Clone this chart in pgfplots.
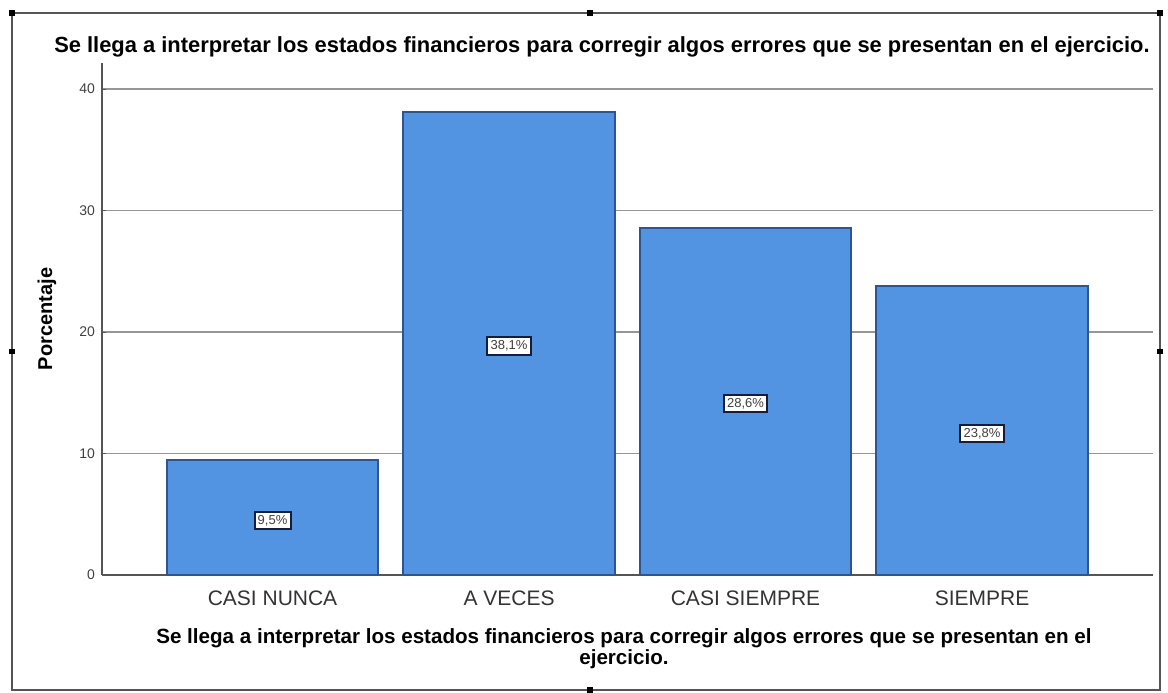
\documentclass[border=0pt]{standalone}
\usepackage{pgfplots}
\pgfplotsset{compat=1.18}
\usepackage{fontspec}
\setmainfont{Liberation Sans}
\definecolor{barfill}{RGB}{83,148,226}
\definecolor{barline}{RGB}{45,85,145}
\definecolor{gridc}{RGB}{150,150,150}
\definecolor{axc}{RGB}{85,85,85}
\definecolor{lblline}{RGB}{20,30,60}
\begin{document}
\begin{tikzpicture}
\useasboundingbox (-51pt,-58.5pt) rectangle (533pt,287.5pt);
\draw[color=axc, line width=1pt] (-45pt,-57.5pt) rectangle (529pt,281pt);
\foreach \p in {(-45pt,281pt),(244pt,281pt),(529pt,281pt),(-45pt,111.75pt),(529pt,111.75pt),(244pt,-57.5pt)}
  \fill[black] \p ++(-1.3pt,-1.3pt) rectangle ++(2.6pt,2.6pt);
\begin{axis}[
  at={(0,0)}, anchor=south west,
  scale only axis, width=525.5pt, height=256pt,
  xmin=-0.721, xmax=3.723, ymin=0, ymax=42.14,
  axis y line*=left, axis x line*=bottom,
  axis line style={color=axc, line width=0.8pt},
  ytick={0,10,20,30,40},
  ymajorgrids, grid style={color=gridc, line width=0.6pt},
  major tick length=2pt,
  tick style={color=axc},
  xtick={0,1,2,3},
  xtick style={draw=none},
  xticklabels={CASI NUNCA, A VECES, CASI SIEMPRE, SIEMPRE},
  xticklabel style={font=\fontsize{10.5}{12}\selectfont, color=black!80, yshift=-4.5pt},
  yticklabel style={font=\fontsize{7}{8}\selectfont, color=black!75},
  /pgf/number format/assume math mode=true,
  ylabel={\textbf{Porcentaje}},
  ylabel style={font=\fontsize{10.5}{12}\selectfont},
  every axis y label/.style={at={(-27.5pt,128pt)}, rotate=90, anchor=center},
  clip=false,
]
\addplot[ybar, bar width=0.894, fill=barfill, draw=barline, line width=1pt]
  coordinates {(0,9.5) (1,38.1) (2,28.6) (3,23.8)};
\addplot[draw=none, mark=none, nodes near coords, point meta=explicit symbolic,
  every node near coord/.style={anchor=center, fill=white, draw=lblline, line width=1pt,
    inner sep=1.6pt, font=\fontsize{6.5}{7.5}\selectfont, text=black!75}]
  table[meta=lab] {
x y lab
0 4.5 {9,5\%}
1 18.85 {38,1\%}
2 14.1 {28,6\%}
3 11.65 {23,8\%}
};
\end{axis}
\node[font=\bfseries\fontsize{10.95}{13}\selectfont] at (250pt,264pt) {Se llega a interpretar los estados financieros para corregir algos errores que se presentan en el ejercicio.};
\node[font=\bfseries\fontsize{10.3}{9.5}\selectfont, align=center] at (261pt,-37pt) {Se llega a interpretar los estados financieros para corregir algos errores que se presentan en el\\ejercicio.};
\end{tikzpicture}
\end{document}
